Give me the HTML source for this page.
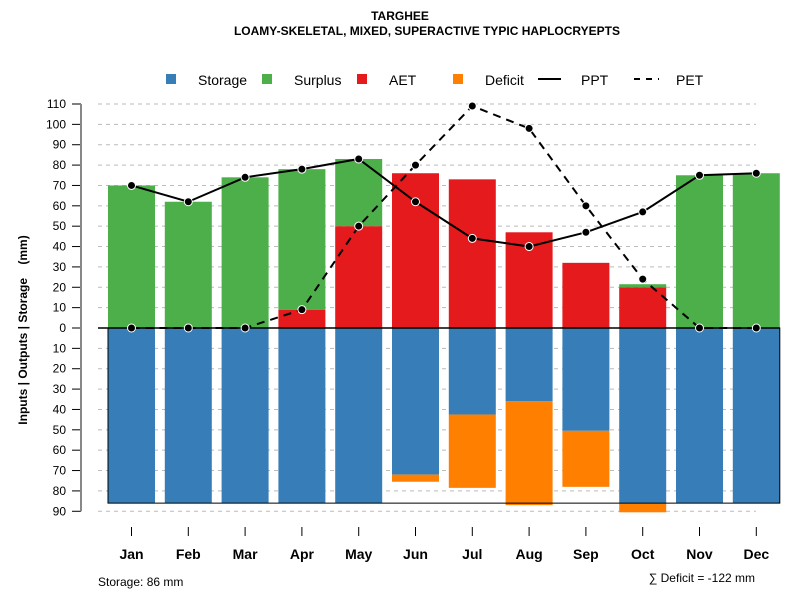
<!DOCTYPE html>
<html><head><meta charset="utf-8"><style>
body{margin:0;background:#fff}
svg{display:block;font-family:"Liberation Sans",sans-serif}
</style></head><body>
<svg id="chart" width="800" height="600" viewBox="0 0 800 600">
<text x="400" y="20" text-anchor="middle" font-size="12" font-weight="bold">TARGHEE</text>
<text x="427" y="35" text-anchor="middle" font-size="12" font-weight="bold">LOAMY-SKELETAL, MIXED, SUPERACTIVE TYPIC HAPLOCRYEPTS</text>
<g font-size="14">
 <g><rect x="166" y="74" width="10" height="10" fill="#377EB8"/><text x="198" y="85">Storage</text></g>
 <g><rect x="262" y="74" width="10" height="10" fill="#4DAF4A"/><text x="294" y="85">Surplus</text></g>
 <g><rect x="357" y="74" width="10" height="10" fill="#E41A1C"/><text x="389" y="85">AET</text></g>
 <g><rect x="453" y="74" width="10" height="10" fill="#FF7F00"/><text x="485" y="85">Deficit</text></g>
 <g><line x1="538" y1="79" x2="561" y2="79" stroke="#000" stroke-width="2"/><text x="581" y="85">PPT</text></g>
 <g><line x1="634" y1="79" x2="659" y2="79" stroke="#000" stroke-width="2" stroke-dasharray="6,6"/><text x="676" y="85">PET</text></g>
</g>
<g id="grid"></g><g id="yaxis"></g><g id="bars"></g><g id="lines"></g><g id="xaxis"></g>
<text transform="translate(27,330) rotate(-90)" text-anchor="middle" font-size="12" font-weight="bold" style="white-space:pre">Inputs | Outputs | Storage    (mm)</text>
<text x="98" y="586" font-size="12">Storage: 86 mm</text>
<text x="755" y="582" text-anchor="end" font-size="12">∑ Deficit = -122 mm</text>
</svg>
<script>
const months=["Jan","Feb","Mar","Apr","May","Jun","Jul","Aug","Sep","Oct","Nov","Dec"];
const aet=[0,0,0,9,50,76,73,47,32,20,0,0];
const surplus=[70,62,74,69,33,0,0,0,0,1.5,75,76];
const storage=[86,86,86,86,86,72,42.5,36,50.5,86,86,86];
const deficit=[0,0,0,0,0,3.5,36,51,27.5,4.5,0,0];
const ppt=[70,62,74,78,83,62,44,40,47,57,75,76];
const pet=[0,0,0,9,50,80,109,98,60,24,0,0];
const yTicks=[110,100,90,80,70,60,50,40,30,20,10,0,-10,-20,-30,-40,-50,-60,-70,-80,-90];
const storageMax=86;
const NS="http://www.w3.org/2000/svg";
const y0=328, k=224/110;
function Y(v){return y0-v*k;}
function X(i){return 131.5+i*56.8;}
const bw=47;
function mk(p,t,a){const e=document.createElementNS(NS,t);for(const q in a)e.setAttribute(q,a[q]);p.appendChild(e);return e;}
const grid=document.getElementById('grid'),ya=document.getElementById('yaxis'),bars=document.getElementById('bars'),lines=document.getElementById('lines'),xa=document.getElementById('xaxis');
yTicks.forEach(t=>{
 const g=mk(grid,'line',{x1:98,x2:756,y1:Y(t),y2:Y(t),stroke:'#bbb','stroke-dasharray':'4,4'});
 
 
 const tk=mk(ya,'line',{x1:72,x2:81,y1:Y(t),y2:Y(t),stroke:'#000'});
 
 
 const tx=mk(ya,'text',{x:66,y:Y(t)+4,'text-anchor':'end','font-size':12});
 tx.textContent=Math.abs(t);
 
 
});
const ax=mk(ya,'line',{x1:81,x2:81,y1:Y(110),y2:Y(-90),stroke:'#888','stroke-width':2});


months.forEach((m,i)=>{
 const x=X(i)-bw/2;
 const r1=mk(bars,'rect',{x:x,y:Y(aet[i]),width:bw,height:aet[i]*k,fill:'#E41A1C'});
 
 
 const r2=mk(bars,'rect',{x:x,y:Y(aet[i]+surplus[i]),width:bw,height:surplus[i]*k,fill:'#4DAF4A'});
 
 
 const r3=mk(bars,'rect',{x:x,y:y0,width:bw,height:storage[i]*k,fill:'#377EB8'});
 
 
 const r4=mk(bars,'rect',{x:x,y:Y(-storage[i]),width:bw,height:deficit[i]*k,fill:'#FF7F00'});
 
 
 const t=mk(xa,'line',{x1:X(i),x2:X(i),y1:527,y2:536,stroke:'#000'});
 
 
 const l=mk(xa,'text',{x:X(i),y:559,'text-anchor':'middle','font-size':14,'font-weight':'bold'});
 l.textContent=m;
 
 
});
const box=mk(bars,'rect',{x:X(0)-bw/2,y:y0,width:X(11)+bw/2-(X(0)-bw/2),height:storageMax*k,fill:'none',stroke:'#000','stroke-width':1});


const z=mk(bars,'line',{x1:98,x2:X(11)+bw/2,y1:y0,y2:y0,stroke:'#000','stroke-width':1.5});


function series(arr,name,dash){
 const pl=mk(lines,'polyline',{points:arr.map((v,i)=>X(i)+','+Y(v)).join(' '),fill:'none',stroke:'#000','stroke-width':2,'stroke-dasharray':dash});
 
 
 arr.forEach((v,i)=>{
  const c=mk(lines,'circle',{cx:X(i),cy:Y(v),r:4,fill:'#000',stroke:'#fff','stroke-width':1});
  
  
 });
}
series(pet,'pet','8,6');
series(ppt,'ppt','none');
</script>
</body></html>
